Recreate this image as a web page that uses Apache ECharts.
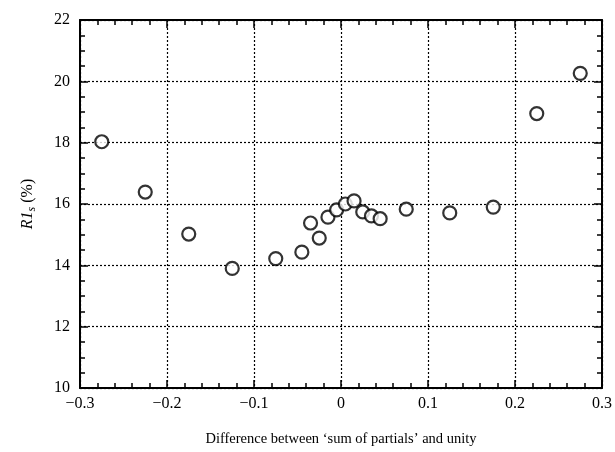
<!DOCTYPE html>
<html>
<head>
    <meta charset="utf-8">
    <title>R1s vs difference</title>
    <script src="https://cdn.jsdelivr.net/npm/echarts@6/dist/echarts.min.js"></script>
</head>
<body style="margin:0">
    <div id="main" style="width: 615px;height:452px;"></div>
    <script type="text/javascript">
        // values
        var diffValues = [-0.275, -0.225, -0.175, -0.125, -0.075, -0.045, -0.035, -0.025, -0.015, -0.005,
                          0.005, 0.015, 0.025, 0.035, 0.045, 0.075, 0.125, 0.175, 0.225, 0.275];
        var r1sValues = [18.03, 16.39, 15.02, 13.90, 14.22, 14.43, 15.38, 14.89, 15.57, 15.81,
                         16.0, 16.10, 15.74, 15.61, 15.52, 15.83, 15.71, 15.90, 18.95, 20.26];
        var xTicks = [-0.3, -0.2, -0.1, 0, 0.1, 0.2, 0.3];
        var yTicks = [10, 12, 14, 16, 18, 20, 22];

        var points = diffValues.map(function (x, i) { return [x, r1sValues[i]]; });

        var font = '"Liberation Serif", "DejaVu Serif", serif';
        var dotted = { show: true, lineStyle: { color: '#000', type: [2, 2], width: 1.2 } };
        var frameLine = { onZero: false, lineStyle: { color: '#000', width: 2 } };
        var majorTick = { inside: true, length: 8, lineStyle: { color: '#000', width: 1.5 } };

        function xLabel(v) {
            if (Math.abs(v) < 1e-9) return '0';
            return (v < 0 ? '\u2212' : '') + Math.abs(v).toFixed(1);
        }

        var myChart = echarts.init(document.getElementById('main'));
        var option = {
            backgroundColor: '#fff',
            animation: false,
            grid: { left: 80, right: 12, top: 20, bottom: 59 },
            xAxis: [{
                type: 'value',
                min: xTicks[0], max: xTicks[xTicks.length - 1], interval: 0.1,
                position: 'bottom',
                axisLine: frameLine,
                axisTick: majorTick,
                minorTick: { show: true, splitNumber: 5, length: 5, lineStyle: { color: '#000', width: 1.5 } },
                splitLine: dotted,
                axisLabel: { color: '#000', fontFamily: font, fontSize: 16, margin: 8, formatter: xLabel },
                name: 'Difference between \u2018sum of partials\u2019 and unity',
                nameLocation: 'middle', nameGap: 44,
                nameTextStyle: { color: '#000', fontFamily: font, fontSize: 14.5 }
            }, {
                type: 'value',
                min: xTicks[0], max: xTicks[xTicks.length - 1], interval: 0.1,
                position: 'top',
                axisLine: frameLine,
                axisTick: majorTick,
                minorTick: { show: true, splitNumber: 5, length: 5, lineStyle: { color: '#000', width: 1.5 } },
                splitLine: { show: false },
                axisLabel: { show: false }
            }],
            yAxis: [{
                type: 'value',
                min: yTicks[0], max: yTicks[yTicks.length - 1], interval: 2,
                position: 'left',
                axisLine: frameLine,
                axisTick: majorTick,
                minorTick: { show: true, splitNumber: 4, length: 5, lineStyle: { color: '#000', width: 1.5 } },
                splitLine: dotted,
                axisLabel: { color: '#000', fontFamily: font, fontSize: 16, margin: 10 },
                name: '{i|R1}{s|s}{n| (%)}',
                nameLocation: 'middle', nameGap: 42,
                nameTextStyle: {
                    color: '#000', fontFamily: font, fontSize: 16,
                    rich: {
                        i: { fontFamily: font, fontSize: 16, fontStyle: 'italic', color: '#000' },
                        s: { fontFamily: font, fontSize: 12, fontStyle: 'italic', color: '#000', verticalAlign: 'bottom', padding: [8, 0, 0, 0] },
                        n: { fontFamily: font, fontSize: 16, color: '#000' }
                    }
                }
            }, {
                type: 'value',
                min: yTicks[0], max: yTicks[yTicks.length - 1], interval: 2,
                position: 'right',
                axisLine: frameLine,
                axisTick: majorTick,
                minorTick: { show: true, splitNumber: 4, length: 5, lineStyle: { color: '#000', width: 1.5 } },
                splitLine: { show: false },
                axisLabel: { show: false }
            }],
            series: [{
                type: 'scatter',
                xAxisIndex: 0, yAxisIndex: 0,
                data: points,
                symbol: 'circle',
                symbolSize: 13,
                itemStyle: { color: '#fff', borderColor: '#000', borderWidth: 2.2 }
            }]
        };
        myChart.setOption(option);
    </script>
</body>
</html>
